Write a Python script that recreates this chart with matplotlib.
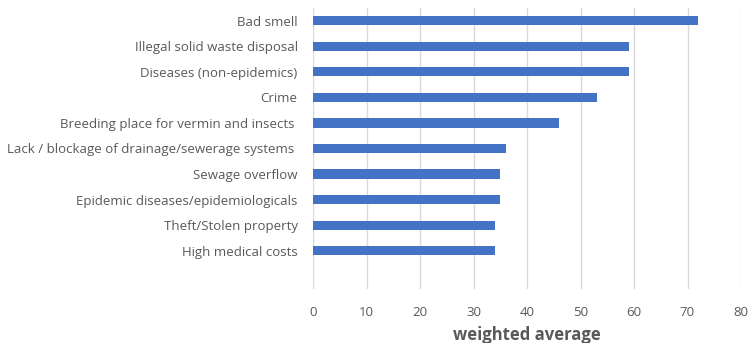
import matplotlib.pyplot as plt

categories = [
    "Bad smell",
    "Illegal solid waste disposal",
    "Diseases (non-epidemics)",
    "Crime",
    "Breeding place for vermin and insects ",
    "Lack / blockage of drainage/sewerage systems ",
    "Sewage overflow",
    "Epidemic diseases/epidemiologicals",
    "Theft/Stolen property",
    "High medical costs",
]
values = [72, 59, 59, 53, 46, 36, 35, 35, 34, 34]
x_ticks = [0, 10, 20, 30, 40, 50, 60, 70, 80]

plt.rcParams['font.family'] = ['Open Sans', 'DejaVu Sans']
grey = '#595959'

fig = plt.figure(figsize=(7.49, 3.43), dpi=100)
ax = fig.add_axes([313 / 749, 1 - 289 / 343, 428 / 749, 281 / 343])

pos = list(range(len(categories)))
ax.barh(pos, values, height=0.36, color='#4472c4', zorder=3)

# one empty slot below the last category
ax.set_ylim(len(categories) + 0.5, -0.5)
ax.set_xlim(0, 80)
ax.set_yticks(pos)
ax.set_yticklabels(categories, fontsize=9.5, color=grey)
ax.set_xticks(x_ticks)
ax.set_xticklabels([str(t) for t in x_ticks], fontsize=9.5, color=grey)
ax.tick_params(axis='y', length=0, pad=11)
ax.tick_params(axis='x', length=0, pad=12)
ax.grid(axis='x', color='#d9d9d9', linewidth=1, zorder=0)
for s in ax.spines.values():
    s.set_visible(False)

ax.set_xlabel('weighted average', fontsize=12, fontweight='bold', color=grey, labelpad=5)

fig.savefig('out.png', dpi=100)
